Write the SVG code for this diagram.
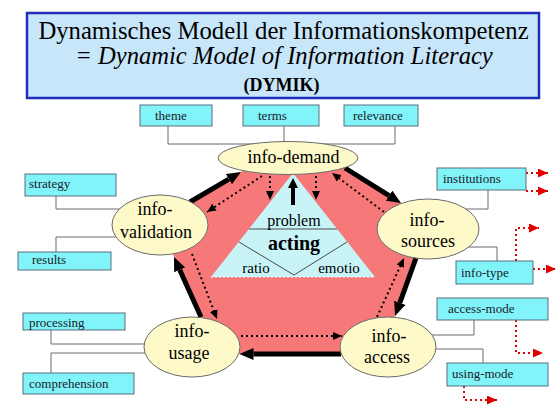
<svg xmlns="http://www.w3.org/2000/svg" width="557" height="418" viewBox="0 0 557 418">
<style>
text{font-family:'Liberation Serif','Times New Roman','DejaVu Serif',serif}
.t{fill:#000}
.box{fill:#80f4f8;stroke:#5a6e80;stroke-width:1}
.bt{font-size:13px;fill:#1a1a2a}
.el{fill:#fdf9c9;stroke:#6a6a6a;stroke-width:1}
.et{font-size:18px;fill:#000;text-anchor:middle}
.con{fill:none;stroke:#6a6a6a;stroke-width:1}
.thick{fill:none;stroke:#000;stroke-width:5}
.dot{fill:none;stroke:#000;stroke-width:2;stroke-dasharray:2 3}
.rdot{fill:none;stroke:#e00000;stroke-width:2;stroke-dasharray:2 3}
</style>
<defs>
<marker id="ab" markerUnits="userSpaceOnUse" markerWidth="14" markerHeight="12" refX="0" refY="6" orient="auto"><path d="M0,0 L14,6 L0,12 z" fill="#000"/></marker>
<marker id="am" markerUnits="userSpaceOnUse" markerWidth="10" markerHeight="10" refX="0" refY="5" orient="auto"><path d="M0,0 L10,5 L0,10 z" fill="#000"/></marker>
<marker id="ad" markerUnits="userSpaceOnUse" markerWidth="9" markerHeight="8" refX="9" refY="4" orient="auto"><path d="M0,0 L9,4 L0,8 z" fill="#000"/></marker>
<marker id="ar" markerUnits="userSpaceOnUse" markerWidth="10" markerHeight="9" refX="10" refY="4.5" orient="auto"><path d="M0,0 L10,4.5 L0,9 z" fill="#e00000"/></marker>
</defs>
<rect width="557" height="418" fill="#fff"/>

<g id="title">
<rect x="27" y="13" width="512" height="85" fill="#c8e6fa" stroke="#1f30b8" stroke-width="2.5"/>
<text class="t" x="283.5" y="39" font-family="Liberation Serif, serif" font-size="24.7" text-anchor="middle">Dynamisches Modell der Informationskompetenz</text>
<text class="t" x="284" y="64" font-family="Liberation Serif, serif" font-size="24.6" font-style="italic" text-anchor="middle">= Dynamic Model of Information Literacy</text>
<text class="t" x="281.5" y="91" font-family="Liberation Serif, serif" font-size="18" font-weight="bold" text-anchor="middle">(DYMIK)</text>
</g>

<g id="background">
<polygon points="158,221 250,166.7 330,158.6 430,221 381,354 218,354" fill="#f77878"/>
<polygon points="293,173 211,277 375,277" fill="#c8f4f8"/>
<line x1="211" y1="277" x2="375" y2="277" stroke="#fff" stroke-width="1.2" stroke-dasharray="2 2"/>
</g>

<g id="acting">
<line x1="249" y1="229" x2="337" y2="229" stroke="#4a4a4a" stroke-width="1"/>
<polyline points="239,242 294,275 347,242" fill="none" stroke="#4a4a4a" stroke-width="1"/>
<text class="t" x="294" y="226" font-size="16" text-anchor="middle">problem</text>
<text class="t" x="294" y="250" font-size="20" font-weight="bold" text-anchor="middle">acting</text>
<text class="t" x="256" y="273" font-size="15" text-anchor="middle">ratio</text>
<text class="t" x="339" y="273" font-size="15" text-anchor="middle">emotio</text>
</g>

<g id="connectors">
<line class="thick" x1="190" y1="202" x2="228.9" y2="179.1" marker-end="url(#ab)"/>
<line class="thick" x1="345" y1="168" x2="389.1" y2="195.6" marker-end="url(#ab)"/>
<line class="thick" x1="416" y1="258" x2="399.8" y2="302.8" marker-end="url(#ab)"/>
<line class="thick" x1="341" y1="354" x2="253.5" y2="354" marker-end="url(#ab)"/>
<line class="thick" x1="201" y1="317" x2="179.7" y2="269.8" marker-end="url(#ab)"/>
<line x1="293" y1="205" x2="293" y2="188" stroke="#000" stroke-width="4" marker-end="url(#am)"/>
<line class="dot" x1="262" y1="176" x2="207" y2="212" marker-end="url(#ad)"/>
<line class="dot" x1="270" y1="176" x2="270" y2="200" marker-end="url(#ad)"/>
<line class="dot" x1="316" y1="176" x2="316" y2="200" marker-end="url(#ad)"/>
<line class="dot" x1="384" y1="212" x2="332" y2="173" marker-end="url(#ad)"/>
<line class="dot" x1="377" y1="317" x2="404" y2="258" marker-end="url(#ad)"/>
<line class="dot" x1="241" y1="336" x2="342" y2="336" marker-end="url(#ad)"/>
<line class="dot" x1="192" y1="254" x2="217" y2="319" marker-end="url(#ad)"/>
<polyline class="con" points="168,126 168,144 395,144 395,126"/>
<line class="con" x1="284" y1="126" x2="284" y2="144"/>
<polyline class="con" points="56,196 56,209 120,209"/>
<polyline class="con" points="56,252 56,237 117,237"/>
<polyline class="con" points="488,190 488,209 465,209"/>
<polyline class="con" points="468,247 497,247 497,261"/>
<polyline class="con" points="474,320 474,335 432,335"/>
<polyline class="con" points="435,349 483,349 483,363"/>
<polyline class="con" points="51,329 51,344 145,344"/>
<polyline class="con" points="145,353 51,353 51,373"/>
<line class="rdot" x1="526" y1="173" x2="548" y2="173" marker-end="url(#ar)"/>
<line class="rdot" x1="526" y1="191" x2="548" y2="191" marker-end="url(#ar)"/>
<polyline class="rdot" points="516,261 516,228 539,228" marker-end="url(#ar)"/>
<line class="rdot" x1="533" y1="269" x2="556" y2="269" marker-end="url(#ar)"/>
<polyline class="rdot" points="516,320 516,353 543,353" marker-end="url(#ar)"/>
<polyline class="rdot" points="464,386 464,400 497,400" marker-end="url(#ar)"/>
</g>

<g id="info-demand"><ellipse class="el" cx="288" cy="158" rx="70" ry="16.5"/><text class="et" x="293.5" y="163" font-size="21">info-demand</text></g>
<g id="info-validation"><ellipse class="el" cx="160" cy="225" rx="48" ry="30"/><text class="et" x="155" y="215">info-</text><text class="et" x="156" y="238">validation</text></g>
<g id="info-sources"><ellipse class="el" cx="428" cy="229" rx="51" ry="30"/><text class="et" x="427" y="226">info-</text><text class="et" x="428" y="247">sources</text></g>
<g id="info-access"><ellipse class="el" cx="388" cy="347" rx="48" ry="30"/><text class="et" x="389" y="342">info-</text><text class="et" x="387" y="363">access</text></g>
<g id="info-usage"><ellipse class="el" cx="192" cy="347" rx="48" ry="30"/><text class="et" x="192" y="337">info-</text><text class="et" x="189" y="359">usage</text></g>

<g id="theme"><rect class="box" x="140" y="105" width="72" height="21"/><text class="bt" x="155" y="120">theme</text></g>
<g id="terms"><rect class="box" x="243" y="105" width="76" height="21"/><text class="bt" x="258" y="120">terms</text></g>
<g id="relevance"><rect class="box" x="344" y="105" width="74" height="21"/><text class="bt" x="353" y="120">relevance</text></g>
<g id="strategy"><rect class="box" x="25" y="174" width="91" height="22"/><text class="bt" x="29" y="188">strategy</text></g>
<g id="results"><rect class="box" x="18" y="252" width="93" height="18"/><text class="bt" x="32" y="264">results</text></g>
<g id="institutions"><rect class="box" x="437" y="168" width="89" height="22"/><text class="bt" x="443" y="183">institutions</text></g>
<g id="info-type"><rect class="box" x="456" y="261" width="77" height="23"/><text class="bt" x="461" y="277">info-type</text></g>
<g id="access-mode"><rect class="box" x="437" y="298" width="111" height="22"/><text class="bt" x="448" y="313">access-mode</text></g>
<g id="using-mode"><rect class="box" x="447" y="363" width="101" height="23"/><text class="bt" x="452" y="378">using-mode</text></g>
<g id="processing"><rect class="box" x="23" y="313" width="102" height="17"/><text class="bt" x="29" y="327">processing</text></g>
<g id="comprehension"><rect class="box" x="23" y="373" width="111" height="21"/><text class="bt" x="29" y="388">comprehension</text></g>
</svg>
